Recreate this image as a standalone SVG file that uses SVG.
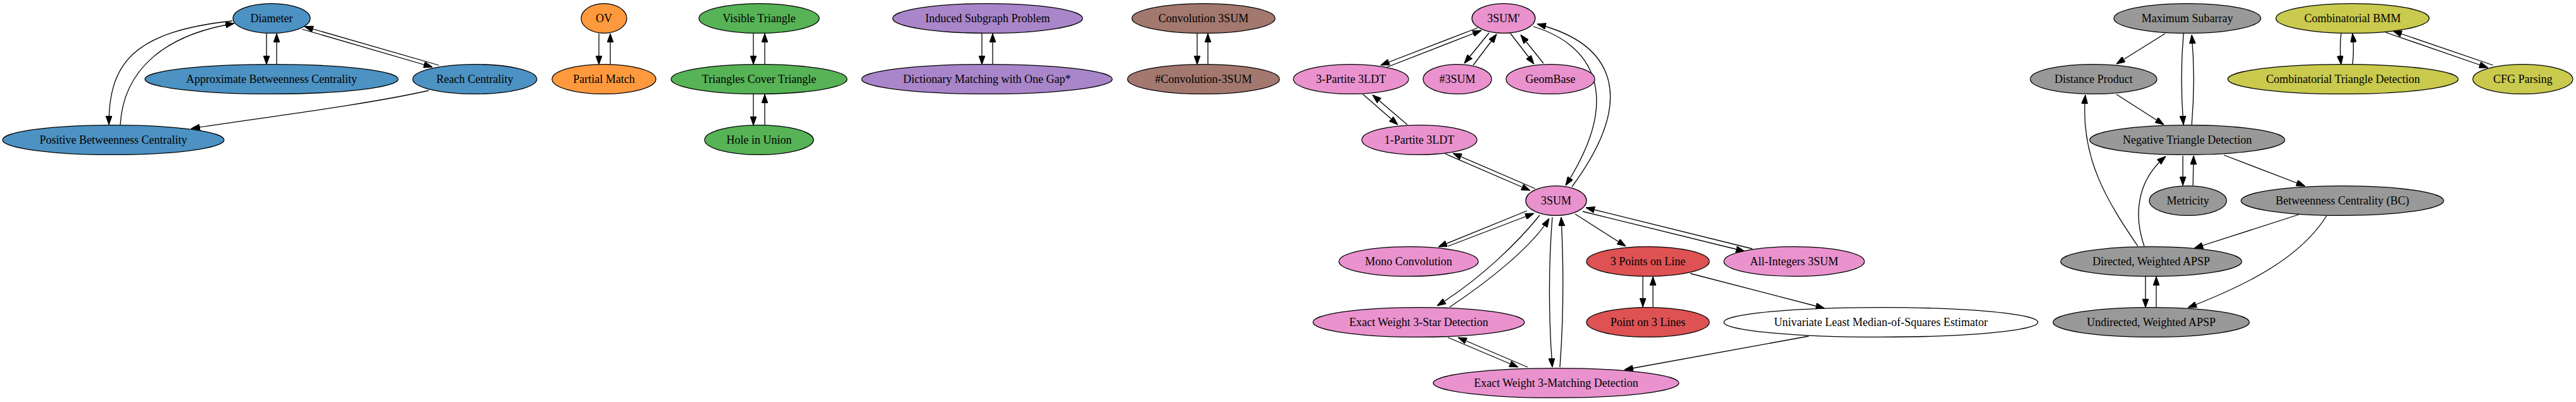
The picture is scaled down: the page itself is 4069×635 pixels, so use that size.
<svg xmlns="http://www.w3.org/2000/svg" width="4069" height="635" viewBox="0 0 4069 635">
<style>
.n ellipse{stroke:#000;stroke-width:1.3}
.n text{font-family:"Liberation Serif","Times New Roman",serif;font-size:18px;text-anchor:middle;fill:#000}
.b ellipse{fill:#4c92c3}.o ellipse{fill:#ff993e}.g ellipse{fill:#56b356}.p ellipse{fill:#a985ca}
.br ellipse{fill:#a3786f}.pk ellipse{fill:#e992ce}.r ellipse{fill:#de5253}.w ellipse{fill:#fff}
.gy ellipse{fill:#999999}.ol ellipse{fill:#c9ca4e}
#edges path{fill:none;stroke:#000;stroke-width:1.3;marker-end:url(#arr)}
</style>
<defs>
<marker id="arr" markerUnits="userSpaceOnUse" viewBox="0 0 14 10" markerWidth="14" markerHeight="10" refX="14" refY="5" orient="auto">
<path d="M0,0 L14,5 L0,10 z" fill="#000" stroke="#000" stroke-width="1"/>
</marker>
</defs>
<rect width="4069" height="635" fill="#fff"/>
<g id="edges">
<path d="M421,53 L421,102"/>
<path d="M437,102 L437,53"/>
<path d="M477,46 L683,106"/>
<path d="M693,103 L481,42"/>
<path d="M367,33 C210,50 172,100 172,197"/>
<path d="M190,197 C195,110 260,55 370,37"/>
<path d="M677,143 C580,165 420,185 302,203"/>
<path d="M946,53 L946,102"/>
<path d="M964,102 L964,53"/>
<path d="M1190,53 L1190,102"/>
<path d="M1208,102 L1208,53"/>
<path d="M1190,149 L1190,198"/>
<path d="M1208,198 L1208,149"/>
<path d="M1551,53 L1551,102"/>
<path d="M1568,102 L1568,53"/>
<path d="M1891,53 L1891,102"/>
<path d="M1908,102 L1908,53"/>
<path d="M2334,44 L2181,103"/>
<path d="M2191,106 L2340,48"/>
<path d="M2352,52 L2313,100"/>
<path d="M2327,103 L2364,54"/>
<path d="M2386,53 L2423,101"/>
<path d="M2438,100 L2402,55"/>
<path d="M2153,149 L2208,197"/>
<path d="M2223,197 L2168,150"/>
<path d="M2425,298 L2295,242"/>
<path d="M2283,243 L2417,301"/>
<path d="M2422,42 C2515,70 2565,150 2473,293"/>
<path d="M2483,295 C2590,150 2545,68 2428,38"/>
<path d="M2412,333 L2272,390"/>
<path d="M2287,389 L2423,337"/>
<path d="M2432,340 C2400,380 2340,440 2270,483"/>
<path d="M2290,485 C2350,445 2420,390 2447,345"/>
<path d="M2452,343 C2446,420 2446,500 2452,580"/>
<path d="M2464,580 C2470,500 2470,420 2466,343"/>
<path d="M2287,533 L2398,580"/>
<path d="M2413,580 L2303,533"/>
<path d="M2488,338 L2568,389"/>
<path d="M2500,334 L2756,397"/>
<path d="M2768,393 L2505,328"/>
<path d="M2595,437 L2595,485"/>
<path d="M2611,485 L2611,437"/>
<path d="M2670,432 L2882,487"/>
<path d="M2857,531 L2566,584"/>
<path d="M3420,53 L3343,101"/>
<path d="M3449,53 C3445,100 3445,150 3449,197"/>
<path d="M3462,197 C3466,150 3466,100 3462,55"/>
<path d="M3343,149 L3418,197"/>
<path d="M3448,246 L3448,293"/>
<path d="M3464,293 L3465,246"/>
<path d="M3513,245 L3641,294"/>
<path d="M3377,389 C3330,320 3285,250 3294,150"/>
<path d="M3387,389 C3370,340 3375,285 3421,247"/>
<path d="M3631,339 L3466,392"/>
<path d="M3675,341 C3635,405 3555,448 3456,486"/>
<path d="M3389,437 L3389,486"/>
<path d="M3406,485 L3406,437"/>
<path d="M3698,53 C3696,70 3696,85 3698,102"/>
<path d="M3716,102 C3718,85 3718,70 3716,53"/>
<path d="M3768,51 L3930,107"/>
<path d="M3938,103 L3780,49"/>
</g>
<g id="diameter" class="n b"><ellipse cx="429" cy="29" rx="61" ry="23.4"/><text x="429" y="35">Diameter</text></g>
<g id="approx" class="n b"><ellipse cx="429" cy="125" rx="200" ry="23.4"/><text x="429" y="131">Approximate Betweenness Centrality</text></g>
<g id="reach" class="n b"><ellipse cx="750" cy="125" rx="98" ry="23.4"/><text x="750" y="131">Reach Centrality</text></g>
<g id="positive" class="n b"><ellipse cx="179" cy="221" rx="175" ry="23.4"/><text x="179" y="227">Positive Betweenness Centrality</text></g>
<g id="ov" class="n o"><ellipse cx="954" cy="29" rx="36" ry="23.4"/><text x="954" y="35">OV</text></g>
<g id="partial" class="n o"><ellipse cx="954" cy="125" rx="82" ry="23.4"/><text x="954" y="131">Partial Match</text></g>
<g id="visible" class="n g"><ellipse cx="1199" cy="29" rx="95" ry="23.4"/><text x="1199" y="35">Visible Triangle</text></g>
<g id="tct" class="n g"><ellipse cx="1199" cy="125" rx="139" ry="23.4"/><text x="1199" y="131">Triangles Cover Triangle</text></g>
<g id="hole" class="n g"><ellipse cx="1199" cy="221" rx="86" ry="23.4"/><text x="1199" y="227">Hole in Union</text></g>
<g id="induced" class="n p"><ellipse cx="1560" cy="29" rx="150" ry="23.4"/><text x="1560" y="35">Induced Subgraph Problem</text></g>
<g id="dict" class="n p"><ellipse cx="1559" cy="125" rx="198" ry="23.4"/><text x="1559" y="131">Dictionary Matching with One Gap*</text></g>
<g id="conv" class="n br"><ellipse cx="1901" cy="29" rx="113" ry="23.4"/><text x="1901" y="35">Convolution 3SUM</text></g>
<g id="sconv" class="n br"><ellipse cx="1901" cy="125" rx="120" ry="23.4"/><text x="1901" y="131">#Convolution-3SUM</text></g>
<g id="sum3p" class="n pk"><ellipse cx="2375" cy="29" rx="50" ry="23.4"/><text x="2375" y="35">3SUM'</text></g>
<g id="p3ldt" class="n pk"><ellipse cx="2134" cy="125" rx="91" ry="23.4"/><text x="2134" y="131">3-Partite 3LDT</text></g>
<g id="s3sum" class="n pk"><ellipse cx="2302" cy="125" rx="54" ry="23.4"/><text x="2302" y="131">#3SUM</text></g>
<g id="geom" class="n pk"><ellipse cx="2449" cy="125" rx="70" ry="23.4"/><text x="2449" y="131">GeomBase</text></g>
<g id="p1ldt" class="n pk"><ellipse cx="2242" cy="221" rx="91" ry="23.4"/><text x="2242" y="227">1-Partite 3LDT</text></g>
<g id="sum3" class="n pk"><ellipse cx="2458" cy="317" rx="48" ry="23.4"/><text x="2458" y="323">3SUM</text></g>
<g id="mono" class="n pk"><ellipse cx="2225" cy="413" rx="110" ry="23.4"/><text x="2225" y="419">Mono Convolution</text></g>
<g id="allint" class="n pk"><ellipse cx="2834" cy="413" rx="111" ry="23.4"/><text x="2834" y="419">All-Integers 3SUM</text></g>
<g id="star" class="n pk"><ellipse cx="2241" cy="509" rx="167" ry="23.4"/><text x="2241" y="515">Exact Weight 3-Star Detection</text></g>
<g id="match" class="n pk"><ellipse cx="2458" cy="605" rx="194" ry="23.4"/><text x="2458" y="611">Exact Weight 3-Matching Detection</text></g>
<g id="pol" class="n r"><ellipse cx="2603" cy="413" rx="97" ry="23.4"/><text x="2603" y="419">3 Points on Line</text></g>
<g id="p3l" class="n r"><ellipse cx="2603" cy="509" rx="97" ry="23.4"/><text x="2603" y="515">Point on 3 Lines</text></g>
<g id="ulms" class="n w"><ellipse cx="2971" cy="509" rx="248" ry="23.4"/><text x="2971" y="515">Univariate Least Median-of-Squares Estimator</text></g>
<g id="maxsub" class="n gy"><ellipse cx="3455" cy="29" rx="116" ry="23.4"/><text x="3455" y="35">Maximum Subarray</text></g>
<g id="dp" class="n gy"><ellipse cx="3307" cy="125" rx="100" ry="23.4"/><text x="3307" y="131">Distance Product</text></g>
<g id="neg" class="n gy"><ellipse cx="3455" cy="221" rx="154" ry="23.4"/><text x="3455" y="227">Negative Triangle Detection</text></g>
<g id="metric" class="n gy"><ellipse cx="3456" cy="317" rx="61" ry="23.4"/><text x="3456" y="323">Metricity</text></g>
<g id="bc" class="n gy"><ellipse cx="3700" cy="317" rx="160" ry="23.4"/><text x="3700" y="323">Betweenness Centrality (BC)</text></g>
<g id="dapsp" class="n gy"><ellipse cx="3398" cy="413" rx="143" ry="23.4"/><text x="3398" y="419">Directed, Weighted APSP</text></g>
<g id="uapsp" class="n gy"><ellipse cx="3398" cy="509" rx="155" ry="23.4"/><text x="3398" y="515">Undirected, Weighted APSP</text></g>
<g id="bmm" class="n ol"><ellipse cx="3716" cy="29" rx="121" ry="23.4"/><text x="3716" y="35">Combinatorial BMM</text></g>
<g id="ctd" class="n ol"><ellipse cx="3701" cy="125" rx="182" ry="23.4"/><text x="3701" y="131">Combinatorial Triangle Detection</text></g>
<g id="cfg" class="n ol"><ellipse cx="3985" cy="125" rx="79" ry="23.4"/><text x="3985" y="131">CFG Parsing</text></g>
</svg>
